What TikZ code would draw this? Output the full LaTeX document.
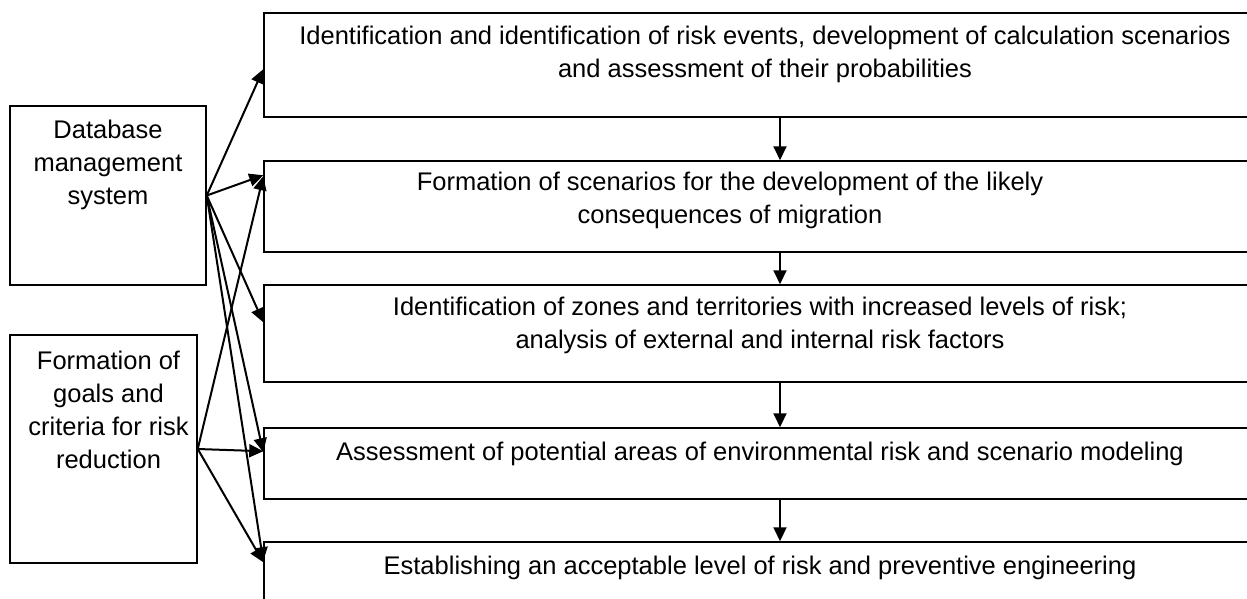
\documentclass[tikz,border=0pt]{standalone}
\usepackage{fontspec}
\setmainfont{Liberation Sans}
\usetikzlibrary{arrows.meta}
\usetikzlibrary{positioning}
\tikzstyle{block} = [rectangle, draw, line width=1.5pt, inner sep=0pt]
\tikzstyle{stage} = [block, minimum width=1032pt]
\tikzstyle{txt} = [align=center, inner sep=0pt, font=\fontsize{25.5}{33}\selectfont]
\tikzstyle{line} = [draw, line width=2pt, -{Triangle[length=14pt,width=13pt]}]

\begin{document}
\begin{tikzpicture}[x=1pt, y=-1pt]
    \path[use as bounding box, clip] (0,0) rectangle (1247,599);
    % Place nodes
    \node [block, minimum width=196pt, minimum height=179pt] (dbms) at (108,195.5) {};
    \node [block, minimum width=187pt, minimum height=228pt] (goals) at (103.5,449) {};
    \node [stage, minimum height=104pt] (ident) at (780,65) {};
    \node [stage, minimum height=91pt] (scen) at (780,206.5) {};
    \node [stage, minimum height=97pt] (zones) at (780,333.5) {};
    \node [stage, minimum height=71pt] (assess) at (780,463.5) {};
    \node [stage, minimum height=108pt] (accept) at (780,596) {};
    % Texts
    \node [txt, below=15pt of dbms.north] (dbmsText) {Database\\management\\system};
    \node [txt, below=17pt of goals.north, xshift=5pt] (goalsText) {Formation of\\goals and\\criteria for risk\\reduction};
    \node [txt, below=13.5pt of ident.north, xshift=-15pt] (identText) {Identification and identification of risk events, development of calculation scenarios\\and assessment of their probabilities};
    \node [txt, below=12pt of scen.north, xshift=-50pt] (scenText) {Formation of scenarios for the development of the likely\\consequences of migration};
    \node [txt, below=13pt of zones.north, xshift=-20pt] (zonesText) {Identification of zones and territories with increased levels of risk;\\analysis of external and internal risk factors};
    \node [txt, below=15pt of assess.north, xshift=-20pt] (assessText) {Assessment of potential areas of environmental risk and scenario modeling};
    \node [txt, below=15pt of accept.north, xshift=-20pt] (acceptText) {Establishing an acceptable level of risk and preventive engineering};
    % Draw edges
    \path [line] (ident) -- (scen);
    \path [line] (scen) -- (zones);
    \path [line] (zones) -- (assess);
    \path [line] (assess) -- (accept);
    \path [line] (dbms.east) -- ([yshift=-57pt]ident.north west);
    \path [line] (dbms.east) -- ([yshift=-15pt]scen.north west);
    \path [line] (dbms.east) -- ([yshift=-38pt]zones.north west);
    \path [line] (dbms.east) -- ([yshift=-25pt]assess.north west);
    \path [line] (dbms.east) -- ([yshift=-20pt]accept.north west);
    \path [line] (goals.east) -- ([yshift=-16pt]scen.north west);
    \path [line] (goals.east) -- ([yshift=-24pt]assess.north west);
    \path [line] (goals.east) -- ([yshift=-21pt]accept.north west);
\end{tikzpicture}
\end{document}
